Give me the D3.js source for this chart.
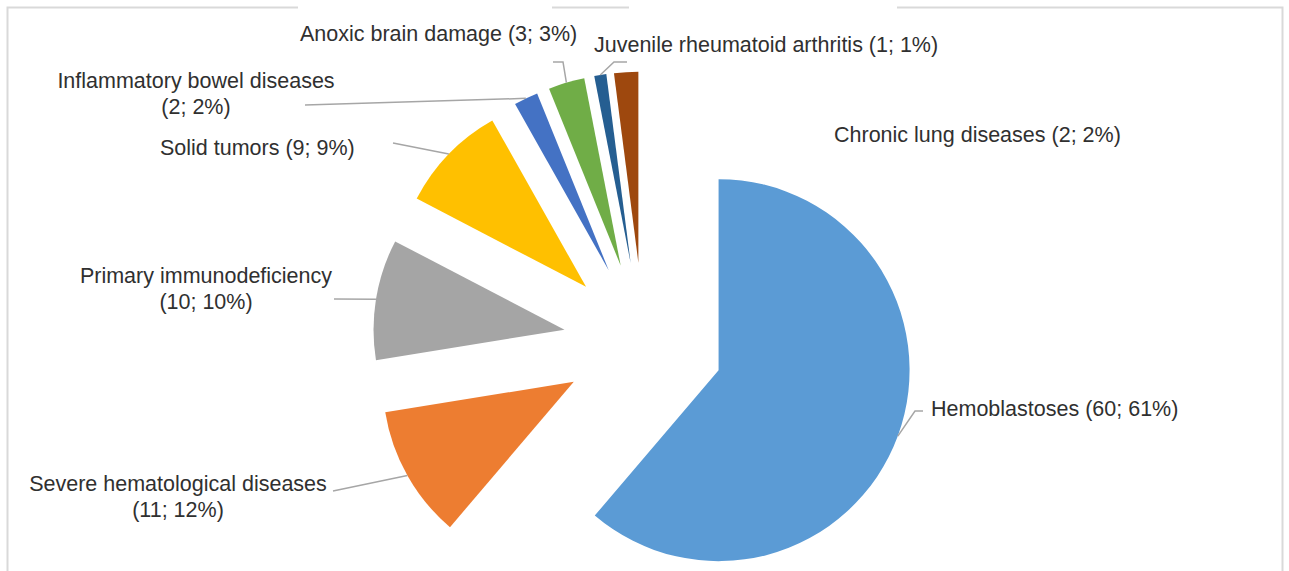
<!DOCTYPE html>
<html>
<head>
<meta charset="utf-8">
<script src="https://cdn.jsdelivr.net/npm/d3@7"></script>
<style>
  body { margin: 0; background: #fff; }
  svg { display: block; }
  text { font-family: "Liberation Sans", Arial, Helvetica, sans-serif; fill: #303030; }
</style>
</head>
<body>
<svg id="drawing_region"></svg>
<script>
// data
const categories = [
    'Hemoblastoses',
    'Severe hematological diseases',
    'Primary immunodeficiency',
    'Solid tumors',
    'Inflammatory bowel diseases',
    'Anoxic brain damage',
    'Juvenile rheumatoid arthritis',
    'Chronic lung diseases'
];
const counts   = [60, 11, 10, 9, 2, 3, 1, 2];
const percents = [61, 12, 10, 9, 2, 3, 1, 2];
const colors   = ['#5b9bd5', '#ed7d31', '#a5a5a5', '#ffc000', '#4472c4', '#70ad47', '#255e91', '#9e480e'];

// where each label sits, and the bend points of its leader line
const labelLayout = [
    {x: 931, y: 416, anchor: 'start', wrap: false, leader: [[915, 411], [923, 411]]},
    {x: 178, y: 491, anchor: 'middle', wrap: true, leader: [[333, 491]]},
    {x: 206, y: 283, anchor: 'middle', wrap: true, leader: [[334, 299]]},
    {x: 160, y: 155, anchor: 'start', wrap: false, leader: [[393, 143]]},
    {x: 196, y: 88, anchor: 'middle', wrap: true, leader: [[305, 105]]},
    {x: 300, y: 41, anchor: 'start', wrap: false, leader: [[563, 62], [553, 62]]},
    {x: 594, y: 52, anchor: 'start', wrap: false, leader: [[614, 62], [627, 62]]},
    {x: 834, y: 142, anchor: 'start', wrap: false, leader: null}
];

const config = {
    width: 1289,
    height: 571,
    cx: 643.5,
    cy: 342.5,
    radius: 191,
    explode: 80,
    fontSize: 21.5,
    lineGap: 26
};

const data = categories.map((c, i) => ({label: c, value: counts[i], pct: percents[i], color: colors[i], layout: labelLayout[i]}));

const svg = d3.select('#drawing_region')
    .attr('width', config.width)
    .attr('height', config.height);

// outer frame, broken where the top labels run over it
const frame = d3.path();
frame.moveTo(7.5, config.height);
frame.lineTo(7.5, 7.5);
frame.lineTo(298, 7.5);
frame.moveTo(552, 7.5);
frame.lineTo(629, 7.5);
frame.moveTo(897, 7.5);
frame.lineTo(1282.5, 7.5);
frame.lineTo(1282.5, config.height);
svg.append('path')
    .attr('d', frame.toString())
    .attr('fill', 'none')
    .attr('stroke', '#d9d9d9')
    .attr('stroke-width', 2);

const g = svg.append('g')
    .attr('transform', `translate(${config.cx}, ${config.cy})`);

const pie = d3.pie()
    .sort(null)
    .value(d => d.value);

const arc = d3.arc()
    .innerRadius(0)
    .outerRadius(config.radius);

const arcs = pie(data);

const shift = (d, len) => {
    const m = (d.startAngle + d.endAngle) / 2;
    return [Math.sin(m) * len, -Math.cos(m) * len];
};

g.selectAll('path.slice')
    .data(arcs)
    .enter()
    .append('path')
    .attr('class', 'slice')
    .attr('d', arc)
    .attr('fill', d => d.data.color)
    .attr('transform', d => `translate(${shift(d, config.explode)})`);

// leader lines from the middle of each slice's rim to its label
const line = d3.line();
svg.selectAll('path.leader')
    .data(arcs.filter(d => d.data.layout.leader))
    .enter()
    .append('path')
    .attr('class', 'leader')
    .attr('d', d => {
        const p = shift(d, config.explode + config.radius);
        const start = [config.cx + p[0], config.cy + p[1]];
        return line([start].concat(d.data.layout.leader));
    })
    .attr('fill', 'none')
    .attr('stroke', '#a6a6a6')
    .attr('stroke-width', 1.5);

const labels = svg.selectAll('text.label')
    .data(data)
    .enter()
    .append('text')
    .attr('class', 'label')
    .attr('font-size', config.fontSize)
    .attr('text-anchor', d => d.layout.anchor)
    .attr('x', d => d.layout.x)
    .attr('y', d => d.layout.y);

labels.each(function(d) {
    const t = d3.select(this);
    const valuePart = `(${d.value}; ${d.pct}%)`;
    if (d.layout.wrap) {
        t.append('tspan').attr('x', d.layout.x).text(d.label);
        t.append('tspan').attr('x', d.layout.x).attr('dy', config.lineGap).text(valuePart);
    } else {
        t.text(`${d.label} ${valuePart}`);
    }
});
</script>
</body>
</html>
